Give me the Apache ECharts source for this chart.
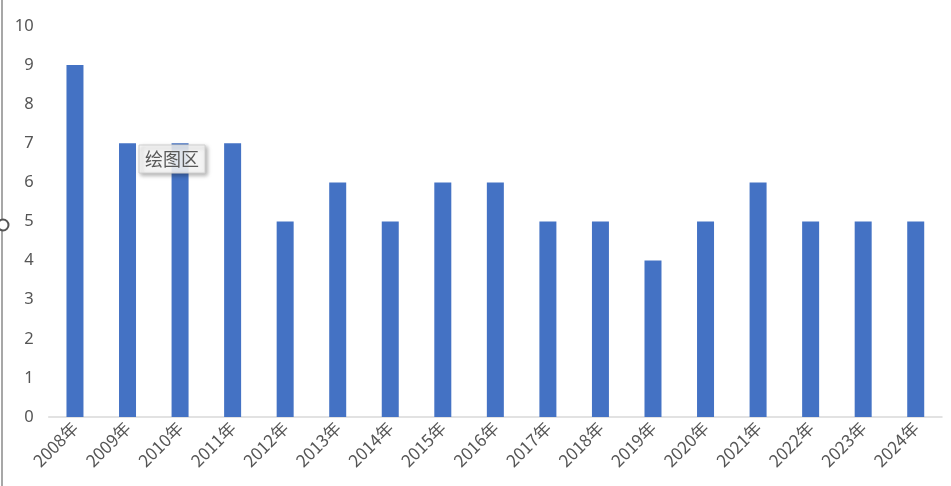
<!DOCTYPE html>
<html><head><meta charset="utf-8">
<script src="https://cdn.jsdelivr.net/npm/echarts@6/dist/echarts.min.js"></script>
<style>html,body{margin:0;padding:0;background:#fff}#c{width:951px;height:486px}</style>
</head><body><div id="c"></div>
<script>
const categories = ['2008年','2009年','2010年','2011年','2012年','2013年','2014年','2015年','2016年','2017年','2018年','2019年','2020年','2021年','2022年','2023年','2024年'];
const values = [9,7,7,7,5,6,5,6,6,5,5,4,5,6,5,5,5];
const yTicks = {min:0, max:10, interval:1};
const tipText = '绘图区';

const chart = echarts.init(document.getElementById('c'));
chart.setOption({
  animation:false,
  grid:{left:48.7, right:9, top:26, bottom:69, containLabel:false},
  xAxis:{type:'category', data:categories,
    axisLine:{lineStyle:{color:'#d9d9d9', width:1.5}},
    axisTick:{show:false},
    axisLabel:{rotate:45, color:'#555555', fontSize:17, fontFamily:'Noto Sans CJK SC', margin:8, interval:0}},
  yAxis:{type:'value', min:yTicks.min, max:yTicks.max, interval:yTicks.interval,
    splitLine:{show:false}, axisLine:{show:false}, axisTick:{show:false},
    axisLabel:{color:'#555555', fontSize:16.5, fontFamily:'Noto Sans, sans-serif', margin:15}},
  series:[{type:'bar', data:values, barWidth:17, itemStyle:{color:'#4472c4'}}],
  graphic:[
    {type:'line', shape:{x1:2, y1:0, x2:2, y2:486}, style:{stroke:'#8a8a8a', lineWidth:1.5}, z:10},
    {type:'circle', shape:{cx:3, cy:225, r:5.5}, style:{fill:'#fff', stroke:'#555', lineWidth:2}, z:11},
    {type:'rect', shape:{x:139, y:145, width:66, height:28}, style:{fill:'rgba(255,255,255,0.85)', stroke:'#d0d0d0', lineWidth:1, shadowBlur:4, shadowOffsetX:2, shadowOffsetY:2, shadowColor:'rgba(0,0,0,0.35)'}, z:20},
    {type:'text', x:172, y:159, style:{text:tipText, fill:'#595959', fontSize:18, fontFamily:'Noto Sans CJK SC', align:'center', verticalAlign:'middle'}, z:21}
  ]
});
</script></body></html>
